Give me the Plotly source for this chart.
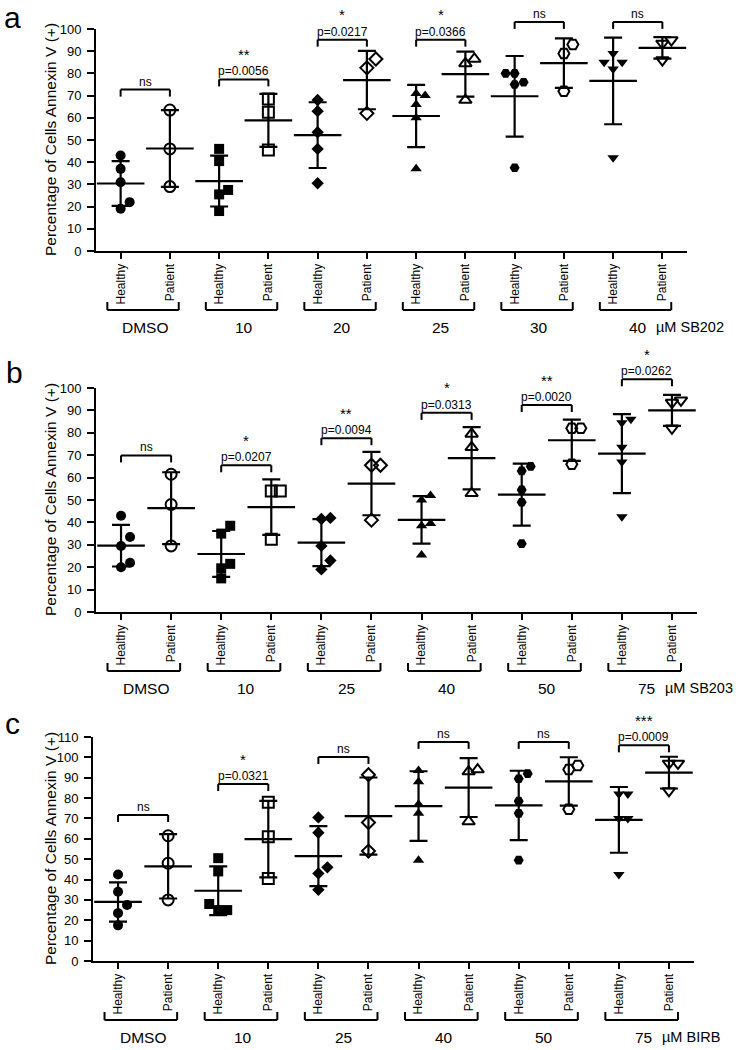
import numpy as np
import plotly.graph_objects as go

W, H = 744, 1050
FONT = "Liberation Sans, Arial, Helvetica, sans-serif"

# ---------------- data ----------------
conditions = ["Healthy", "Patient"]
symbols = ["circle", "square", "diamond", "triangle-up", "hexagon2", "triangle-down"]

# Panel a : SB202
groups_a = ["DMSO", "10", "20", "25", "30", "40"]
drug_a = "µM SB202"
a_healthy = [
    [43, 37, 31, 22, 19],
    [46, 40.5, 27.5, 25.5, 18],
    [68, 63, 53.5, 46, 30.5],
    [71, 70, 66, 60, 37],
    [80, 80, 76, 75, 37.5],
    [89, 85, 85, 82, 42],
]
a_patient = [
    [63.5, 46, 29],
    [68.5, 62.5, 45.5],
    [86.5, 82.5, 62],
    [86.5, 84.5, 68],
    [93, 89, 72],
    [95, 93.5, 86],
]
a_pvalue = ["ns", "p=0.0056", "p=0.0217", "p=0.0366", "ns", "ns"]
a_stars = ["", "**", "*", "*", "", ""]

# Panel b : SB203
groups_b = ["DMSO", "10", "25", "40", "50", "75"]
drug_b = "µM SB203"
b_healthy = [
    [43, 33.5, 29.5, 22, 20],
    [38.5, 35, 21.5, 19.5, 15],
    [41.5, 42, 29.5, 23, 19],
    [52, 50, 39.5, 38.5, 25.5],
    [65, 63, 54.5, 49, 30.5],
    [86, 84.5, 73.5, 67, 42.5],
]
b_patient = [
    [61.5, 48, 29.5],
    [54, 54, 32.5],
    [65.5, 65.5, 41],
    [79.5, 73.5, 53],
    [82, 82, 66],
    [94.5, 93.5, 82],
]
b_pvalue = ["ns", "p=0.0207", "p=0.0094", "p=0.0313", "p=0.0020", "p=0.0262"]
b_stars = ["", "*", "**", "*", "**", "*"]

# Panel c : BIRB
groups_c = ["DMSO", "10", "25", "40", "50", "75"]
drug_c = "µM BIRB"
c_healthy = [
    [42.5, 34, 27.5, 23.5, 17.5],
    [50.5, 44, 28, 25, 25],
    [70.5, 63, 46, 43, 35],
    [93.5, 88, 77, 72.5, 49.5],
    [92, 89.5, 78.5, 72.5, 49.5],
    [82, 82, 70, 70, 42.5],
]
c_patient = [
    [61.5, 48, 30],
    [78, 61, 40.5],
    [91.5, 68, 54],
    [94, 93, 68.5],
    [96, 94, 74.5],
    [97, 97, 83.5],
]
c_pvalue = ["ns", "p=0.0321", "ns", "ns", "ns", "p=0.0009"]
c_stars = ["", "*", "", "", "", "***"]

# ---------------- layout config (positions / styles) ----------------
panels = [
    dict(letter="a", groups=groups_a, drug=drug_a, healthy=a_healthy, patient=a_patient,
         pvalue=a_pvalue, stars=a_stars, bracket=[72.7, 77.3, 95.2, 95.2, 103.2, 103.2],
         ymax=100, xdom=(96, 687), ydom=(29, 251), letter_pos=(12, 18)),
    dict(letter="b", groups=groups_b, drug=drug_b, healthy=b_healthy, patient=b_patient,
         pvalue=b_pvalue, stars=b_stars, bracket=[69.9, 65.5, 77.6, 88.9, 92.4, 103.9],
         ymax=100, xdom=(96, 697), ydom=(388, 612), letter_pos=(14, 372)),
    dict(letter="c", groups=groups_c, drug=drug_c, healthy=c_healthy, patient=c_patient,
         pvalue=c_pvalue, stars=c_stars, bracket=[71.7, 86.9, 100.2, 107.6, 107.6, 105.9],
         ymax=110, xdom=(93, 694), ydom=(737, 961), letter_pos=(12, 723)),
]


def swarm(values, ppu, ppc, step=9.0, dmin=9.0):
    vals = np.asarray(values, dtype=float)
    order = np.argsort(vals, kind="stable")
    placed = []
    offs = np.zeros(len(vals))
    for i in order:
        y = vals[i] * ppu
        x = 0.0
        for k in [0, 1, -1, 2, -2, 3, -3]:
            x = k * step
            if all((x - px) ** 2 + (y - py) ** 2 >= dmin ** 2 - 1e-6 for px, py in placed):
                break
        placed.append((x, y))
        offs[i] = x / ppc
    return offs


fig = go.Figure()
shapes = []
annotations = []
layout_axes = {}

for k, p in enumerate(panels):
    sfx = "" if k == 0 else str(k + 1)
    xa, ya = "x" + sfx, "y" + sfx
    ydref = ya + " domain"
    x0px, x1px = p["xdom"]
    ytop, ybot = p["ydom"]
    hpx = ybot - ytop
    wpx = x1px - x0px
    ymax = p["ymax"]
    ppu = hpx / ymax
    ppc = wpx / 12.0

    for g in range(6):
        xh, xp = 2 * g, 2 * g + 1
        hv = np.array(p["healthy"][g], dtype=float)
        pv = np.array(p["patient"][g], dtype=float)
        means = [hv.mean(), pv.mean()]
        sds = [hv.std(ddof=1), pv.std(ddof=1)]
        # mean +/- SD
        fig.add_trace(go.Scatter(
            x=[xh, xp], y=means, xaxis=xa, yaxis=ya, mode="markers",
            marker=dict(symbol="line-ew", size=34, color="black",
                        line=dict(color="black", width=2.2)),
            error_y=dict(type="data", array=sds, visible=True, color="black",
                         thickness=2.2, width=9),
            cliponaxis=False, showlegend=False, hoverinfo="skip"))
        # healthy points (filled)
        fig.add_trace(go.Scatter(
            x=xh + swarm(hv, ppu, ppc), y=hv, xaxis=xa, yaxis=ya, mode="markers",
            marker=dict(symbol=symbols[g], size=10 if symbols[g] != "diamond" else 9.5,
                        color="black", line=dict(width=0)),
            cliponaxis=False, showlegend=False, name=conditions[0]))
        # patient points (open)
        fig.add_trace(go.Scatter(
            x=xp + swarm(pv, ppu, ppc), y=pv, xaxis=xa, yaxis=ya, mode="markers",
            marker=dict(symbol=symbols[g] + "-open", size=11 if symbols[g] != "diamond" else 10,
                        color="black", line=dict(width=2, color="black")),
            cliponaxis=False, showlegend=False, name=conditions[1]))

        # significance bracket
        yb = p["bracket"][g] / ymax
        leg = 7.0 / hpx
        line = dict(color="black", width=2)
        shapes.append(dict(type="line", xref=xa, yref=ydref, x0=xh, x1=xp, y0=yb, y1=yb, line=line))
        shapes.append(dict(type="line", xref=xa, yref=ydref, x0=xh, x1=xh, y0=yb, y1=yb - leg, line=line))
        shapes.append(dict(type="line", xref=xa, yref=ydref, x0=xp, x1=xp, y0=yb, y1=yb - leg, line=line))
        annotations.append(dict(xref=xa, yref=ydref, x=xh + 0.5, y=yb, yshift=8, borderpad=0,
                                text=p["pvalue"][g], showarrow=False, yanchor="middle",
                                font=dict(size=12, color="black", family=FONT)))
        if p["stars"][g]:
            annotations.append(dict(xref=xa, yref=ydref, x=xh + 0.5, y=yb, yshift=25, borderpad=0,
                                    text=p["stars"][g], showarrow=False, yanchor="middle",
                                    font=dict(size=15, color="black", family=FONT)))

        # group bracket below the axis
        gb = -59.0 / hpx
        gl = -51.0 / hpx
        line2 = dict(color="black", width=2)
        bx0, bx1 = xh - 0.27, xp + 0.18
        shapes.append(dict(type="line", xref=xa, yref=ydref, x0=bx0, x1=bx1, y0=gb, y1=gb, line=line2))
        shapes.append(dict(type="line", xref=xa, yref=ydref, x0=bx0, x1=bx0, y0=gb, y1=gl, line=line2))
        shapes.append(dict(type="line", xref=xa, yref=ydref, x0=bx1, x1=bx1, y0=gb, y1=gl, line=line2))
        annotations.append(dict(xref=xa, yref=ydref, x=xh + 0.5, y=0, yshift=-76,
                                text=p["groups"][g], showarrow=False, yanchor="middle",
                                font=dict(size=15.5, color="black", family=FONT)))

    annotations.append(dict(xref=xa, yref=ydref, x=10.85, y=0, yshift=-76, xanchor="left",
                            borderpad=0, text=p["drug"], showarrow=False, yanchor="middle",
                            font=dict(size=14.5, color="black", family=FONT)))
    # y title
    annotations.append(dict(xref="paper", yref=ydref, x=50 / W, y=0.5, textangle=-90,
                            text="Percentage of Cells Annexin V (+)", showarrow=False,
                            xanchor="center", yanchor="middle",
                            font=dict(size=15.5, color="black", family=FONT)))
    # panel letter
    lx, ly = p["letter_pos"]
    annotations.append(dict(xref="paper", yref="paper", x=lx / W, y=1 - ly / H,
                            text=p["letter"], showarrow=False, xanchor="center", yanchor="middle",
                            font=dict(size=30, color="black", family=FONT)))

    layout_axes["xaxis" + sfx] = dict(
        domain=[x0px / W, x1px / W], range=[-0.5, 11.5], anchor=ya, automargin=False,
        tickmode="array", tickvals=list(range(12)), ticktext=conditions * 6,
        tickangle=-90, ticks="outside", ticklen=6, tickwidth=2, tickcolor="black",
        showline=True, linewidth=2, linecolor="black", showgrid=False, zeroline=False,
        tickfont=dict(size=12, color="black", family=FONT), fixedrange=True)
    layout_axes["yaxis" + sfx] = dict(
        domain=[1 - ybot / H, 1 - ytop / H], range=[0, ymax], anchor=xa, automargin=False,
        tick0=0, dtick=10, ticks="outside", ticklen=7, tickwidth=2, tickcolor="black",
        showline=True, linewidth=2, linecolor="black", showgrid=False, zeroline=False,
        tickfont=dict(size=13, color="black", family=FONT), ticklabelstandoff=3,
        fixedrange=True)

fig.update_layout(
    template="none",
    width=W, height=H, autosize=False,
    margin=dict(l=0, r=0, t=0, b=0, pad=0),
    paper_bgcolor="white", plot_bgcolor="white",
    showlegend=False, shapes=shapes, annotations=annotations,
    font=dict(family=FONT, color="black"),
    **layout_axes)

fig.write_html(
    "out.html",
    config={"displayModeBar": False, "staticPlot": True},
    post_script="document.body.style.margin='0';document.body.style.overflow='hidden';",
)
